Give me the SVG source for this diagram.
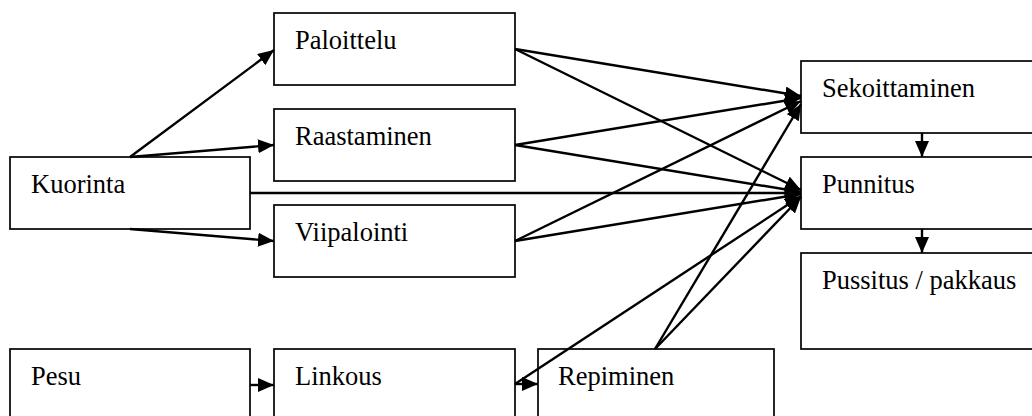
<svg xmlns="http://www.w3.org/2000/svg" width="1032" height="416" viewBox="0 0 1032 416">
  <style>
    .box { fill: #ffffff; stroke: #000000; stroke-width: 1.7; }
    .label { font-family: "Liberation Serif", "Times New Roman", serif; font-size: 26.5px; fill: #000000; }
    .conn { fill: none; stroke: #000000; stroke-width: 2.4; marker-end: url(#arrow); }
  </style>
  <defs>
    <marker id="arrow" markerUnits="userSpaceOnUse" markerWidth="18" markerHeight="15" refX="16" refY="7" orient="auto">
      <path d="M0,0 L16,7 L0,14 Z" fill="#000000"/>
    </marker>
  </defs>

  <rect width="1032" height="416" fill="#ffffff"/>

  <!-- process steps -->
  <g id="node-kuorinta">
    <rect class="box" x="10" y="157" width="240" height="72"/>
    <text class="label" x="31" y="193">Kuorinta</text>
  </g>
  <g id="node-paloittelu">
    <rect class="box" x="274" y="13" width="241" height="72"/>
    <text class="label" x="295" y="49">Paloittelu</text>
  </g>
  <g id="node-raastaminen">
    <rect class="box" x="274" y="109" width="241" height="72"/>
    <text class="label" x="295" y="145">Raastaminen</text>
  </g>
  <g id="node-viipalointi">
    <rect class="box" x="274" y="205" width="241" height="72"/>
    <text class="label" x="295" y="241">Viipalointi</text>
  </g>
  <g id="node-pesu">
    <rect class="box" x="10" y="349" width="240" height="80"/>
    <text class="label" x="31" y="385">Pesu</text>
  </g>
  <g id="node-linkous">
    <rect class="box" x="274" y="349" width="241" height="80"/>
    <text class="label" x="295" y="385">Linkous</text>
  </g>
  <g id="node-repiminen">
    <rect class="box" x="538" y="349" width="236" height="80"/>
    <text class="label" x="558" y="385">Repiminen</text>
  </g>
  <g id="node-sekoittaminen">
    <rect class="box" x="801" y="61" width="245" height="72"/>
    <text class="label" x="822" y="97">Sekoittaminen</text>
  </g>
  <g id="node-punnitus">
    <rect class="box" x="801" y="157" width="245" height="72"/>
    <text class="label" x="822" y="193">Punnitus</text>
  </g>
  <g id="node-pussitus">
    <rect class="box" x="801" y="253" width="245" height="96"/>
    <text class="label" x="822" y="289">Pussitus / pakkaus</text>
  </g>

  <!-- flow connectors -->
  <g id="connectors">
    <line class="conn" x1="130" y1="157" x2="274" y2="50"/>
    <line class="conn" x1="130" y1="157" x2="274" y2="145"/>
    <line class="conn" x1="130" y1="229" x2="274" y2="241"/>
    <line class="conn" x1="250" y1="193" x2="801" y2="193"/>
    <line class="conn" x1="250" y1="385" x2="274" y2="385"/>
    <line class="conn" x1="515" y1="384" x2="538" y2="384"/>

    <line class="conn" x1="515" y1="49" x2="801" y2="96"/>
    <line class="conn" x1="515" y1="145" x2="801" y2="98"/>
    <line class="conn" x1="515" y1="241" x2="801" y2="101"/>
    <line class="conn" x1="655" y1="349" x2="801" y2="104"/>

    <line class="conn" x1="515" y1="49" x2="801" y2="190"/>
    <line class="conn" x1="515" y1="145" x2="801" y2="192"/>
    <line class="conn" x1="515" y1="241" x2="801" y2="194"/>
    <line class="conn" x1="515" y1="384" x2="801" y2="196"/>
    <line class="conn" x1="655" y1="349" x2="801" y2="197"/>

    <line class="conn" x1="922" y1="133" x2="922" y2="157"/>
    <line class="conn" x1="922" y1="229" x2="922" y2="253"/>
  </g>
</svg>
